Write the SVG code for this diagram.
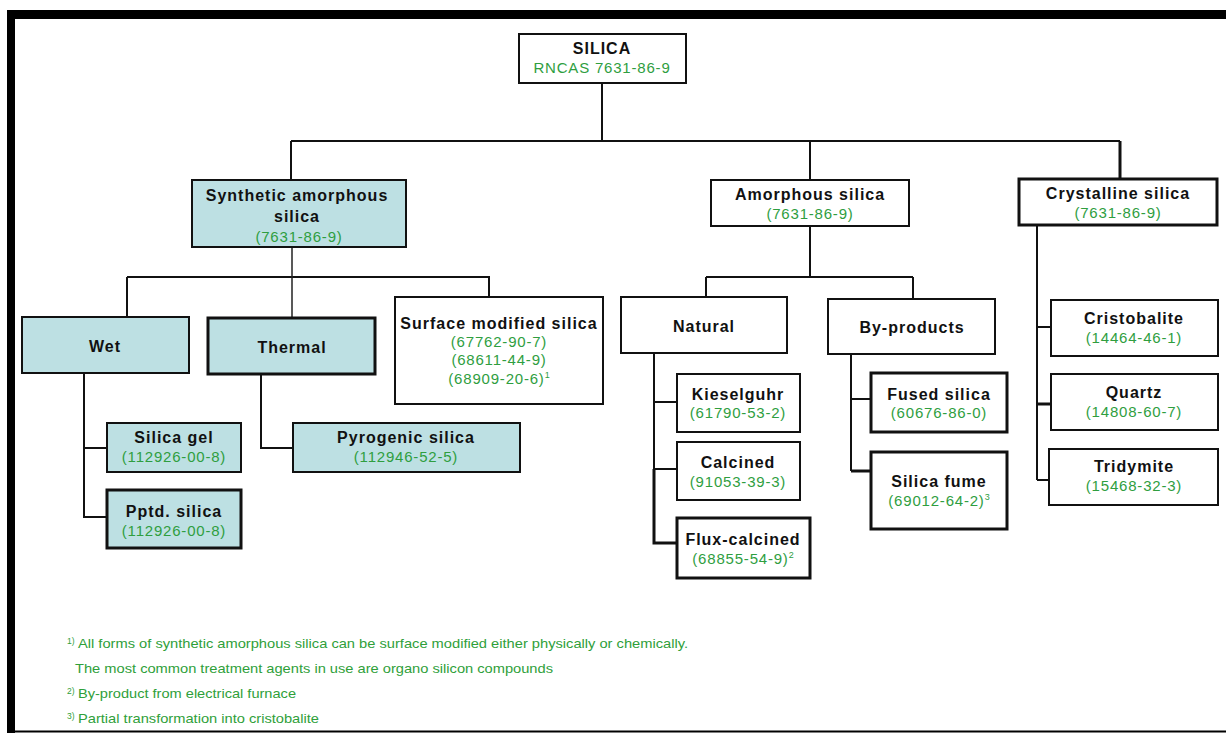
<svg xmlns="http://www.w3.org/2000/svg" width="1226" height="733" viewBox="0 0 1226 733">
  <style>
    .box { fill: #ffffff; stroke: #111111; stroke-width: 2; }
    .blue { fill: #bde0e3; }
    .thick { stroke-width: 3; }
    .t { font-family: "Liberation Sans", Arial, sans-serif; font-size: 16px; font-weight: bold; fill: #111111; text-anchor: middle; letter-spacing: 1px; }
    .c { font-family: "Liberation Sans", Arial, sans-serif; font-size: 15px; fill: #2f9e3f; text-anchor: middle; letter-spacing: 0.8px; }
    .sup { font-size: 9px; letter-spacing: 0; }
    .fn { font-family: "Liberation Sans", Arial, sans-serif; font-size: 13px; fill: #2fa03a; }
    .fs { font-family: "Liberation Sans", Arial, sans-serif; font-size: 8.5px; fill: #2fa03a; }
    .ln { fill: none; stroke: #111111; stroke-width: 2; }
    .lh { fill: none; stroke: #222222; stroke-width: 1.5; }
    .lt { fill: none; stroke: #111111; stroke-width: 3; }
  </style>
  <rect width="1226" height="733" fill="#ffffff"/>

  <!-- page frame -->
  <g id="frame">
    <rect x="7" y="10" width="1219" height="9" fill="#000000"/>
    <rect x="7" y="10" width="8" height="723" fill="#000000"/>
    <line x1="7" y1="731.5" x2="1226" y2="731.5" stroke="#000000" stroke-width="2"/>
  </g>

  <!-- connectors -->
  <g id="connectors">
    <path class="ln" d="M602 83 V141 M291 141 H1120 M291 141 V180 M810 141 V180"/>
    <path class="lt" d="M1120 141 V179"/>
    <!-- synthetic branch -->
    <path class="ln" d="M127 277 H490 M127 277 V317 M489 277 V297"/>
    <path class="lh" d="M292 247 V318"/>
    <path class="ln" d="M84 373 V517 H107 M84 448 H107"/>
    <path class="ln" d="M261 374 V448 H293"/>
    <!-- amorphous branch -->
    <path class="ln" d="M810 226 V277 M706 277 H913 M706 277 V297 M913 277 V299"/>
    <path class="ln" d="M654 353 V469 M654 402 H677 M654 469 H677"/>
    <path class="lt" d="M654 469 V543 H677"/>
    <path class="ln" d="M851 354 V471 M851 399 H871"/>
    <path class="lt" d="M851 471 H871"/>
    <!-- crystalline branch -->
    <path class="ln" d="M1037 225 V480 M1037 327 H1051 M1037 480 H1049"/>
    <path class="lt" d="M1037 404 H1051"/>
  </g>

  <g id="silica">
    <rect class="box" x="519" y="34" width="167" height="49"/>
    <text class="t" x="602" y="54">SILICA</text>
    <text class="c" x="602" y="73">RNCAS 7631-86-9</text>
  </g>

  <g id="synthetic">
    <rect class="box blue" x="192" y="180" width="214" height="67"/>
    <text class="t" x="297" y="201">Synthetic amorphous</text>
    <text class="t" x="297" y="222">silica</text>
    <text class="c" x="299" y="242">(7631-86-9)</text>
  </g>

  <g id="amorphous">
    <rect class="box" x="711" y="180" width="198" height="46"/>
    <text class="t" x="810" y="200">Amorphous silica</text>
    <text class="c" x="810" y="219">(7631-86-9)</text>
  </g>

  <g id="crystalline">
    <rect class="box thick" x="1019" y="179" width="198" height="46"/>
    <text class="t" x="1118" y="199">Crystalline silica</text>
    <text class="c" x="1118" y="218">(7631-86-9)</text>
  </g>

  <g id="wet">
    <rect class="box blue" x="22" y="317" width="167" height="56"/>
    <text class="t" x="105" y="352">Wet</text>
  </g>

  <g id="thermal">
    <rect class="box blue thick" x="208" y="318" width="167" height="56"/>
    <text class="t" x="292" y="353">Thermal</text>
  </g>

  <g id="surface-modified">
    <rect class="box" x="395" y="297" width="208" height="107"/>
    <text class="t" x="499" y="329">Surface modified silica</text>
    <text class="c" x="499" y="347">(67762-90-7)</text>
    <text class="c" x="499" y="365">(68611-44-9)</text>
    <text class="c" x="499" y="384">(68909-20-6)<tspan class="sup" dy="-6">1</tspan></text>
  </g>

  <g id="silica-gel">
    <rect class="box blue" x="107" y="423" width="134" height="49"/>
    <text class="t" x="174" y="443">Silica gel</text>
    <text class="c" x="174" y="462">(112926-00-8)</text>
  </g>

  <g id="pptd-silica">
    <rect class="box blue thick" x="107" y="490" width="134" height="58"/>
    <text class="t" x="174" y="517">Pptd. silica</text>
    <text class="c" x="174" y="536">(112926-00-8)</text>
  </g>

  <g id="pyrogenic">
    <rect class="box blue" x="293" y="423" width="227" height="49"/>
    <text class="t" x="406" y="443">Pyrogenic silica</text>
    <text class="c" x="406" y="462">(112946-52-5)</text>
  </g>

  <g id="natural">
    <rect class="box" x="621" y="297" width="166" height="56"/>
    <text class="t" x="704" y="332">Natural</text>
  </g>

  <g id="by-products">
    <rect class="box" x="828" y="299" width="167" height="55"/>
    <text class="t" x="912" y="333">By-products</text>
  </g>

  <g id="kieselguhr">
    <rect class="box" x="677" y="374" width="123" height="58"/>
    <text class="t" x="738" y="400">Kieselguhr</text>
    <text class="c" x="738" y="418">(61790-53-2)</text>
  </g>

  <g id="calcined">
    <rect class="box" x="677" y="442" width="123" height="58"/>
    <text class="t" x="738" y="468">Calcined</text>
    <text class="c" x="738" y="487">(91053-39-3)</text>
  </g>

  <g id="flux-calcined">
    <rect class="box thick" x="677" y="518" width="133" height="60"/>
    <text class="t" x="743" y="545">Flux-calcined</text>
    <text class="c" x="743" y="564">(68855-54-9)<tspan class="sup" dy="-6">2</tspan></text>
  </g>

  <g id="fused-silica">
    <rect class="box thick" x="871" y="373" width="136" height="59"/>
    <text class="t" x="939" y="400">Fused silica</text>
    <text class="c" x="939" y="418">(60676-86-0)</text>
  </g>

  <g id="silica-fume">
    <rect class="box thick" x="871" y="452" width="136" height="77"/>
    <text class="t" x="939" y="487">Silica fume</text>
    <text class="c" x="939" y="506">(69012-64-2)<tspan class="sup" dy="-6">3</tspan></text>
  </g>

  <g id="cristobalite">
    <rect class="box" x="1051" y="300" width="167" height="56"/>
    <text class="t" x="1134" y="324">Cristobalite</text>
    <text class="c" x="1134" y="343">(14464-46-1)</text>
  </g>

  <g id="quartz">
    <rect class="box" x="1051" y="374" width="167" height="56"/>
    <text class="t" x="1134" y="398">Quartz</text>
    <text class="c" x="1134" y="417">(14808-60-7)</text>
  </g>

  <g id="tridymite">
    <rect class="box" x="1049" y="449" width="169" height="56"/>
    <text class="t" x="1134" y="472">Tridymite</text>
    <text class="c" x="1134" y="491">(15468-32-3)</text>
  </g>

  <!-- footnotes -->
  <g id="footnotes">
    <text class="fs" x="67" y="644">1)</text>
    <text class="fn" x="78" y="648" textLength="610" lengthAdjust="spacingAndGlyphs">All forms of synthetic amorphous silica can be surface modified either physically or chemically.</text>
    <text class="fn" x="75" y="673" textLength="478" lengthAdjust="spacingAndGlyphs">The most common treatment agents in use are organo silicon compounds</text>
    <text class="fs" x="67" y="694">2)</text>
    <text class="fn" x="78" y="698" textLength="218" lengthAdjust="spacingAndGlyphs">By-product from electrical furnace</text>
    <text class="fs" x="67" y="719">3)</text>
    <text class="fn" x="78" y="723" textLength="241" lengthAdjust="spacingAndGlyphs">Partial transformation into cristobalite</text>
  </g>
</svg>
